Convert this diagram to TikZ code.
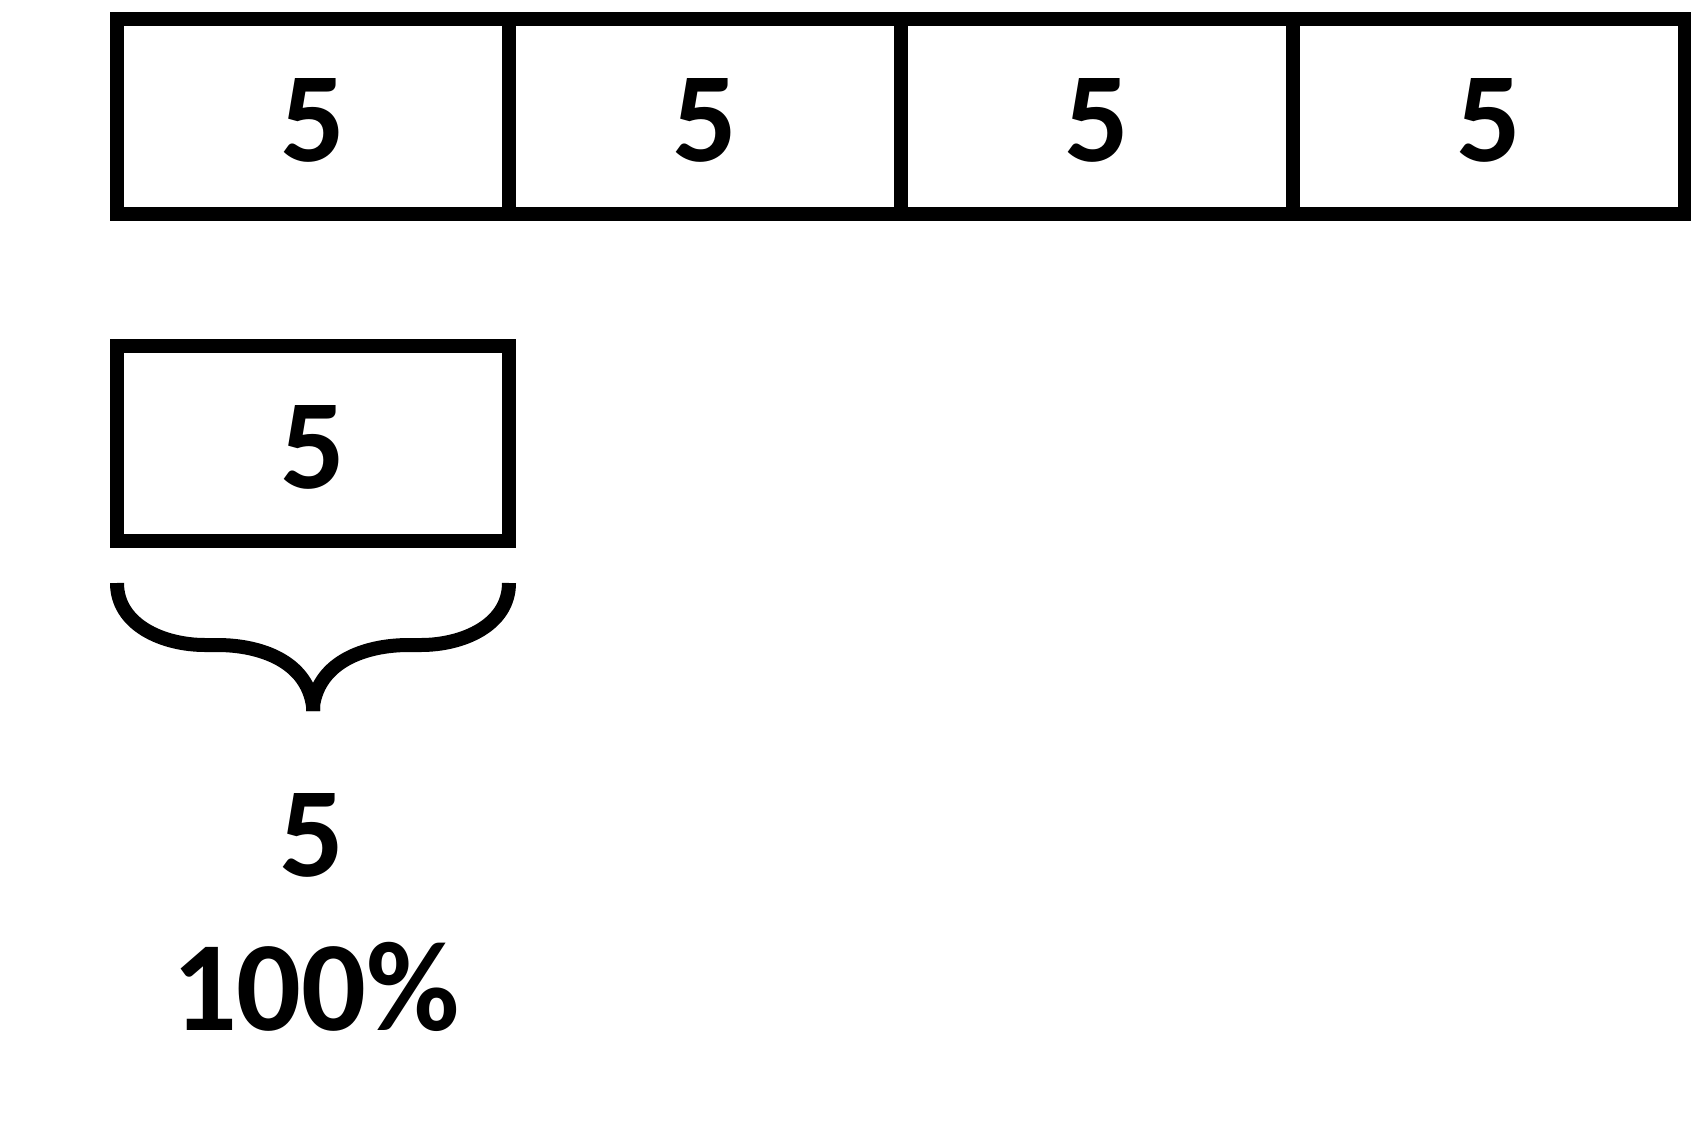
\documentclass[tikz,border=0pt]{standalone}
\usepackage{fontspec}
\setmainfont{Carlito}
\begin{document}
\begin{tikzpicture}[x=1pt,y=-1pt,
  cellbox/.style={draw=black,line width=14pt,minimum width=392pt,minimum height=195pt,inner sep=0pt},
  numtext/.style={inner sep=0pt,font=\fontsize{128}{128}\selectfont\bfseries},
  bracepath/.style={draw=black,line width=14pt,line cap=butt}]
\useasboundingbox (0,0) rectangle (1691,1140);
\node[cellbox] (c1) at (313,116.5) {};
\node[cellbox] (c2) at (705,116.5) {};
\node[cellbox] (c3) at (1097,116.5) {};
\node[cellbox] (c4) at (1489,116.5) {};
\node[numtext] (t1) at (313,120) {5};
\node[numtext] (t2) at (705,120) {5};
\node[numtext] (t3) at (1097,120) {5};
\node[numtext] (t4) at (1489,120) {5};
\node[cellbox,minimum height=194.5pt] (b1) at (313,443.25) {};
\node[numtext] (tb) at (313,447) {5};
\coordinate (bl) at (117,583);
\coordinate (br) at (509,583);
\coordinate (bt) at (313,711);
\path[bracepath] (bl) to[out=-90,in=180] (205,645) -- (217,645) to[out=0,in=98] (313,706) -- (bt);
\path[bracepath] (br) to[out=-90,in=0] (421,645) -- (409,645) to[out=180,in=82] (313,706) -- (bt);
\node[numtext] (v) at (312,835) {5};
\node[numtext] (p) at (316,987) {100\%};
\end{tikzpicture}
\end{document}
